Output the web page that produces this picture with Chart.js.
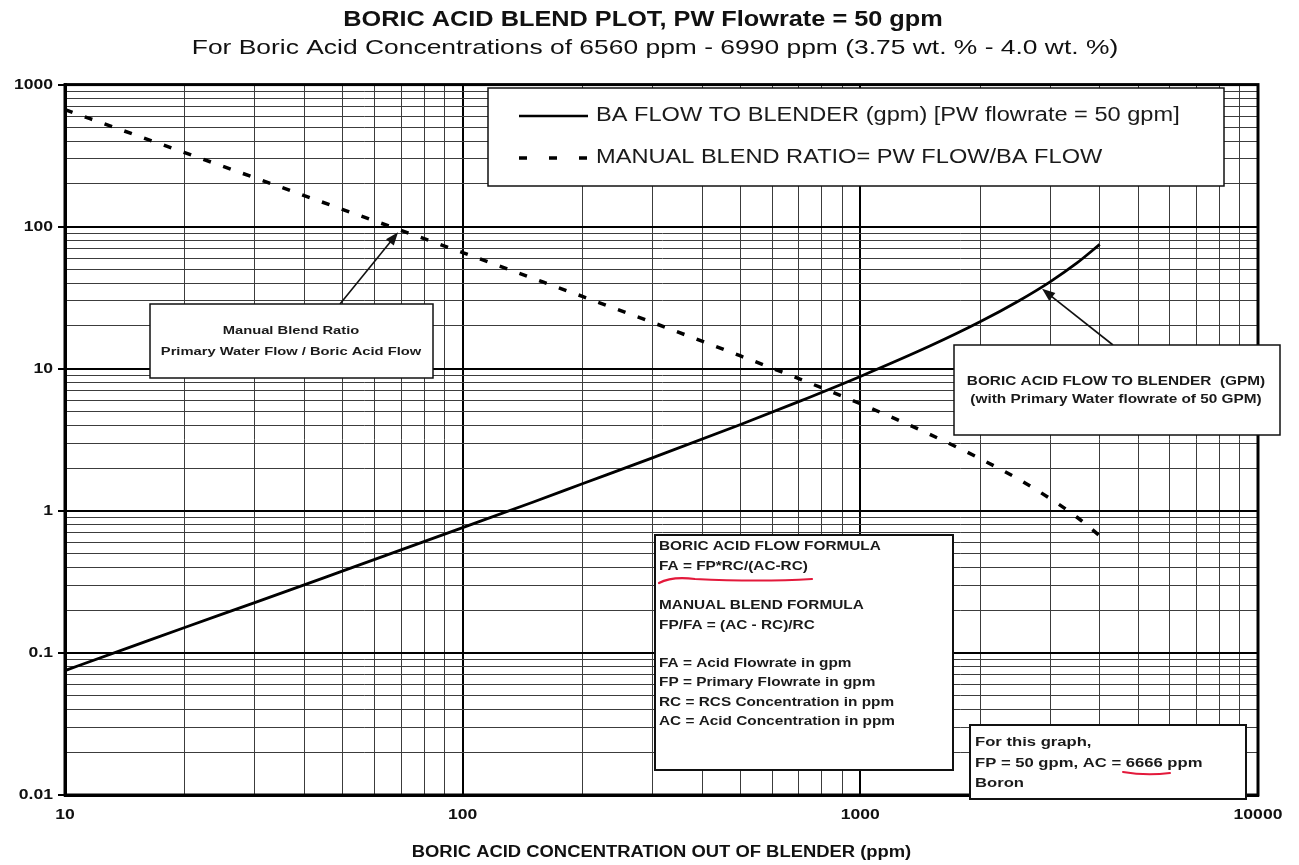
<!DOCTYPE html>
<html>
<head>
<meta charset="utf-8">
<script src="https://cdn.jsdelivr.net/npm/chart.js@4.4.1/dist/chart.umd.min.js"></script>
<style>
html,body{margin:0;padding:0;background:#fff;}
canvas{display:block;}
</style>
</head>
<body>
<canvas id="c" width="1299" height="865"></canvas>
<script>
// ---- data ----
const concentrationPpm = [10, 15, 20, 30, 50, 70, 100, 150, 200, 300, 500, 700, 1000, 1500, 2000, 2500, 3000, 3500, 4000];
const baFlowGpm        = [0.0751, 0.113, 0.151, 0.226, 0.378, 0.531, 0.762, 1.15, 1.55, 2.36, 4.05, 5.87, 8.83, 14.5, 21.4, 30.0, 40.9, 55.3, 75.0];
const blendRatio       = [666, 443, 332, 221, 132, 94.2, 65.7, 43.4, 32.3, 21.2, 12.3, 8.52, 5.67, 3.44, 2.33, 1.67, 1.22, 0.905, 0.667];
const xMajorTicks = [10, 100, 1000, 10000];
const yMajorTicks = [0.01, 0.1, 1, 10, 100, 1000];
const minorMultipliers = [2, 3, 4, 5, 6, 7, 8, 9];

const seriesLabels = ["BA FLOW TO BLENDER (gpm) [PW flowrate = 50 gpm]", "MANUAL BLEND RATIO= PW FLOW/BA FLOW"];
const titleText = "BORIC ACID BLEND PLOT, PW Flowrate = 50 gpm";
const subtitleText = "For Boric Acid Concentrations of 6560 ppm - 6990 ppm (3.75 wt. % - 4.0 wt. %)";
const xAxisTitle = "BORIC ACID CONCENTRATION OUT OF BLENDER (ppm)";
const ratioNote = ["Manual Blend Ratio", "Primary Water Flow / Boric Acid Flow"];
const flowNote = ["BORIC ACID FLOW TO BLENDER  (GPM)", "(with Primary Water flowrate of 50 GPM)"];
const formulaNote = ["BORIC ACID FLOW FORMULA", "FA = FP*RC/(AC-RC)", "MANUAL BLEND FORMULA", "FP/FA = (AC - RC)/RC", "FA = Acid Flowrate in gpm", "FP = Primary Flowrate in gpm", "RC = RCS Concentration in ppm", "AC = Acid Concentration in ppm"];
const graphNote = ["For this graph,", "FP = 50 gpm, AC = 6666 ppm", "Boron"];

// ---- styling ----
const FONT = "'Liberation Sans', Arial, sans-serif";

// horizontal text widening, to match the wide lettering of the scanned original
function stretchFor(t) {
  if (t === titleText) return 1.15;
  if (t === subtitleText) return 1.258;
  if (t === xAxisTitle) return 1.15;
  if (/^[0-9.]+$/.test(t)) return 1.17;
  if (seriesLabels.indexOf(t) >= 0) return 1.21;
  return 1.28;
}
// the headings are centred on the whole page width (not only the chart box)
function shiftFor(t) {
  if (t === titleText) return 14;
  if (t === subtitleText) return 26;
  return 0;
}

function buildLogTicks(majors) {
  const t = [];
  majors.forEach((m, i) => {
    t.push({ value: m, major: true });
    if (i < majors.length - 1) {
      minorMultipliers.forEach(k => t.push({ value: +(m * k).toPrecision(4), major: false }));
    }
  });
  return t;
}

const stretchText = {
  id: 'stretchText',
  beforeInit(chart) {
    const ctx = chart.ctx;
    const orig = CanvasRenderingContext2D.prototype.fillText;
    ctx.fillText = function (t, x, y, mw) {
      const str = String(t);
      const s = stretchFor(str);
      this.save();
      this.translate(x + shiftFor(str), y);
      this.scale(s, 1);
      if (mw !== undefined && mw !== null) orig.call(this, t, 0, 0, mw / s);
      else orig.call(this, t, 0, 0);
      this.restore();
    };
  }
};

const frame = {
  id: 'frame',
  beforeDatasetsDraw(chart) {
    const { ctx, chartArea: a } = chart;
    ctx.save();
    ctx.strokeStyle = '#000';
    ctx.lineWidth = 3;
    ctx.strokeRect(a.left, a.top, a.right - a.left, a.bottom - a.top);
    ctx.restore();
  }
};

function drawBox(ctx, x, y, w, h, lw) {
  ctx.save();
  ctx.fillStyle = '#fff';
  ctx.fillRect(x, y, w, h);
  ctx.strokeStyle = '#111';
  ctx.lineWidth = lw || 1.5;
  ctx.strokeRect(x, y, w, h);
  ctx.restore();
}
function drawText(ctx, str, x, y, size, align, weight) {
  ctx.save();
  ctx.font = (weight || 'bold') + ' ' + size + 'px ' + FONT;
  ctx.fillStyle = '#1a1a1a';
  ctx.textAlign = align || 'left';
  ctx.textBaseline = 'middle';
  ctx.fillText(str, x, y);
  ctx.restore();
}
function drawArrow(ctx, x1, y1, x2, y2) {
  const ang = Math.atan2(y2 - y1, x2 - x1);
  const len = 13, half = 5;
  ctx.save();
  ctx.strokeStyle = '#111';
  ctx.fillStyle = '#111';
  ctx.lineWidth = 1.6;
  ctx.beginPath();
  ctx.moveTo(x1, y1);
  ctx.lineTo(x2 - Math.cos(ang) * len * 0.8, y2 - Math.sin(ang) * len * 0.8);
  ctx.stroke();
  ctx.beginPath();
  ctx.moveTo(x2, y2);
  ctx.lineTo(x2 - Math.cos(ang) * len + Math.sin(ang) * half, y2 - Math.sin(ang) * len - Math.cos(ang) * half);
  ctx.lineTo(x2 - Math.cos(ang) * len - Math.sin(ang) * half, y2 - Math.sin(ang) * len + Math.cos(ang) * half);
  ctx.closePath();
  ctx.fill();
  ctx.restore();
}

const annotations = {
  id: 'annotations',
  afterDraw(chart) {
    const ctx = chart.ctx;
    const xs = chart.scales.x, ys = chart.scales.y;
    const ds = chart.data.datasets;

    // legend box
    drawBox(ctx, 488, 88, 736, 98, 1.5);
    [116, 158].forEach((ly, i) => {
      ctx.save();
      ctx.strokeStyle = ds[i].borderColor;
      ctx.lineWidth = i === 0 ? 2.6 : 3.5;
      ctx.setLineDash(i === 0 ? [] : [8, 22]);
      ctx.beginPath();
      ctx.moveTo(519, ly);
      ctx.lineTo(588, ly);
      ctx.stroke();
      ctx.restore();
      drawText(ctx, ds[i].label, 596, ly, 19.5, 'left', 'normal');
    });

    // manual blend ratio note + arrow
    const i70 = concentrationPpm.indexOf(70);
    drawArrow(ctx, 340, 304, xs.getPixelForValue(70) - 3, ys.getPixelForValue(blendRatio[i70]) + 2);
    drawBox(ctx, 150, 304, 283, 74, 1.5);
    drawText(ctx, ratioNote[0], 291, 331, 11.5, 'center');
    drawText(ctx, ratioNote[1], 291, 352, 11.5, 'center');

    // BA flow note + arrow
    const i3000 = concentrationPpm.indexOf(3000);
    drawArrow(ctx, 1113, 345, xs.getPixelForValue(3000) - 8, ys.getPixelForValue(baFlowGpm[i3000]) + 7);
    drawBox(ctx, 954, 345, 326, 90, 1.5);
    drawText(ctx, flowNote[0], 1116, 382, 12, 'center');
    drawText(ctx, flowNote[1], 1116, 400, 12, 'center');

    // formula box
    drawBox(ctx, 655, 535, 298, 235, 2);
    const fy = [547, 567, 606, 626, 664, 683, 703, 722];
    formulaNote.forEach((s, i) => drawText(ctx, s, 659, fy[i], 12, 'left'));
    ctx.save();
    ctx.strokeStyle = '#e3193b';
    ctx.lineWidth = 2.2;
    ctx.lineCap = 'round';
    ctx.beginPath();
    ctx.moveTo(659, 583);
    ctx.quadraticCurveTo(672, 576, 695, 579);
    ctx.quadraticCurveTo(760, 582, 812, 579);
    ctx.stroke();
    ctx.restore();

    // "for this graph" box
    drawBox(ctx, 970, 725, 276, 74, 2);
    const gy = [742, 763, 783];
    graphNote.forEach((s, i) => drawText(ctx, s, 975, gy[i], 13, 'left'));
    ctx.save();
    ctx.strokeStyle = '#e3193b';
    ctx.lineWidth = 2;
    ctx.lineCap = 'round';
    ctx.beginPath();
    ctx.moveTo(1123, 772);
    ctx.quadraticCurveTo(1146, 776, 1170, 773);
    ctx.stroke();
    ctx.restore();
  }
};

const gridColor = c => (c.tick && c.tick.major) ? '#000' : '#3c3c3c';
const gridWidth = c => (c.tick && c.tick.major) ? 2 : 1;

new Chart(document.getElementById('c'), {
  type: 'line',
  data: {
    datasets: [
      {
        label: seriesLabels[0],
        data: concentrationPpm.map((x, i) => ({ x, y: baFlowGpm[i] })),
        borderColor: '#000',
        borderWidth: 2.8,
        pointRadius: 0,
        cubicInterpolationMode: 'monotone',
        fill: false
      },
      {
        label: seriesLabels[1],
        data: concentrationPpm.map((x, i) => ({ x, y: blendRatio[i] })),
        borderColor: '#000',
        borderWidth: 3.5,
        borderDash: [8, 13],
        pointRadius: 0,
        cubicInterpolationMode: 'monotone',
        fill: false
      }
    ]
  },
  options: {
    responsive: false,
    animation: false,
    devicePixelRatio: 1,
    layout: { padding: { top: 0, left: 0, right: 41, bottom: 0 } },
    plugins: {
      legend: { display: false },
      tooltip: { enabled: false },
      title: {
        display: true,
        text: titleText,
        color: '#111',
        font: { family: FONT, size: 22, weight: 'bold' },
        padding: { top: 7, bottom: 2 }
      },
      subtitle: {
        display: true,
        text: subtitleText,
        color: '#111',
        font: { family: FONT, size: 21, weight: 'normal' },
        padding: { top: 0, bottom: 24 }
      }
    },
    scales: {
      x: {
        type: 'logarithmic',
        min: 10,
        max: 10000,
        afterBuildTicks: s => { s.ticks = buildLogTicks(xMajorTicks); },
        afterFit: s => { s.height = 70; },
        ticks: {
          autoSkip: false,
          maxRotation: 0,
          padding: 3,
          color: '#111',
          font: { family: FONT, size: 15, weight: 'bold' },
          callback: (v, i, t) => (t[i] && t[i].major) ? String(v) : ''
        },
        grid: { color: gridColor, lineWidth: gridWidth, tickLength: 8, tickColor: 'rgba(0,0,0,0)' },
        border: { display: true, color: '#000', width: 3 },
        title: {
          display: true,
          text: xAxisTitle,
          color: '#111',
          font: { family: FONT, size: 16, weight: 'bold' },
          padding: { top: 0, bottom: 3 }
        }
      },
      y: {
        type: 'logarithmic',
        min: 0.01,
        max: 1000,
        afterBuildTicks: s => { s.ticks = buildLogTicks(yMajorTicks); },
        afterFit: s => { s.width = 65; },
        ticks: {
          autoSkip: false,
          padding: 5,
          color: '#111',
          font: { family: FONT, size: 15, weight: 'bold' },
          callback: (v, i, t) => (t[i] && t[i].major) ? String(v) : ''
        },
        grid: {
          color: gridColor,
          lineWidth: gridWidth,
          tickLength: 7,
          tickColor: c => (c.tick && c.tick.major) ? '#000' : 'rgba(0,0,0,0)'
        },
        border: { display: true, color: '#000', width: 3 }
      }
    }
  },
  plugins: [stretchText, frame, annotations]
});
</script>
</body>
</html>
